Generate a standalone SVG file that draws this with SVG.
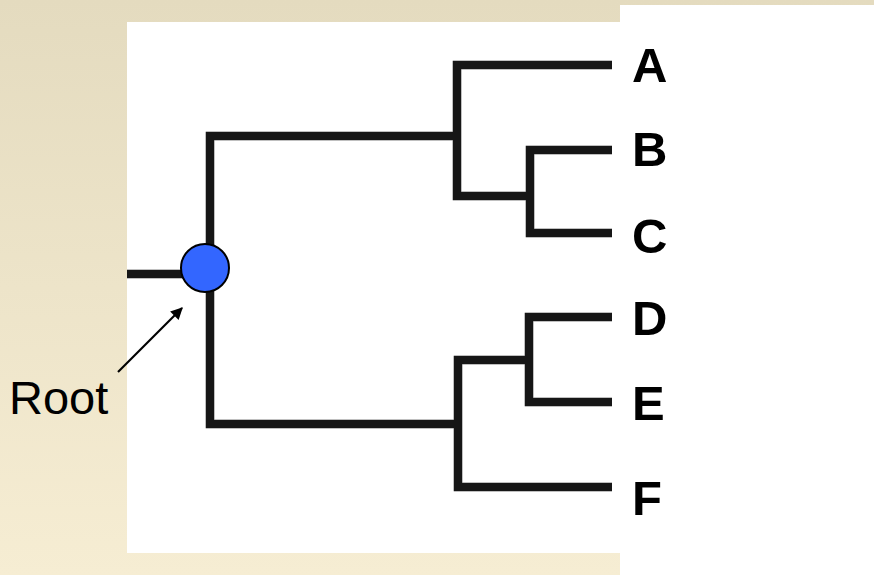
<svg xmlns="http://www.w3.org/2000/svg" width="874" height="575" viewBox="0 0 874 575">
  <defs>
    <linearGradient id="bgGrad" x1="0" y1="0" x2="0" y2="1">
      <stop offset="0" stop-color="#e4dbbf"/>
      <stop offset="1" stop-color="#f6edd3"/>
    </linearGradient>
    <filter id="soft" x="-5%" y="-5%" width="110%" height="110%">
      <feGaussianBlur stdDeviation="0.7"/>
    </filter>
    <marker id="arrowHead" viewBox="0 0 10 10" refX="9" refY="5" markerWidth="16" markerHeight="12" markerUnits="userSpaceOnUse" orient="auto">
      <path d="M0,0 L10,5 L0,10 Z" fill="#000"/>
    </marker>
  </defs>
  <style>
    .branch { fill: none; stroke: #151515; stroke-width: 8.5; stroke-linejoin: miter; stroke-linecap: butt; }
    .leaf { font-family: "Liberation Sans", Arial, sans-serif; font-size: 49px; font-weight: bold; fill: #000; }
    .note { font-family: "Liberation Sans", Arial, sans-serif; font-size: 47px; fill: #000; }
  </style>

  <!-- backdrop -->
  <rect x="0" y="0" width="874" height="575" fill="url(#bgGrad)"/>
  <rect x="620" y="5" width="254" height="570" fill="#ffffff"/>
  <rect x="127" y="22" width="493" height="531" fill="#ffffff"/>

  <!-- tree branches -->
  <g id="connectors" filter="url(#soft)">
    <path class="branch" d="M127,274 H205"/>
    <path class="branch" d="M457,136 H210 V424 H458"/>
    <path class="branch" d="M612,65 H457 V196 H530"/>
    <path class="branch" d="M612,150 H530 V233 H612"/>
    <path class="branch" d="M529,360 H458 V487 H612"/>
    <path class="branch" d="M612,317 H529 V402 H612"/>
  </g>

  <!-- root node -->
  <g id="root-node">
    <circle cx="205" cy="268" r="24" fill="#3366ff" stroke="#000" stroke-width="2"/>
  </g>

  <!-- root callout -->
  <g id="root-label">
    <line x1="118" y1="372" x2="182" y2="308" stroke="#000" stroke-width="2.2" marker-end="url(#arrowHead)"/>
    <text class="note" x="9" y="414">Root</text>
  </g>

  <!-- leaves -->
  <g id="leaf-A"><text class="leaf" x="632" y="82">A</text></g>
  <g id="leaf-B"><text class="leaf" x="632" y="166">B</text></g>
  <g id="leaf-C"><text class="leaf" x="632" y="253">C</text></g>
  <g id="leaf-D"><text class="leaf" x="632" y="335">D</text></g>
  <g id="leaf-E"><text class="leaf" x="632" y="420">E</text></g>
  <g id="leaf-F"><text class="leaf" x="632" y="515">F</text></g>
</svg>
